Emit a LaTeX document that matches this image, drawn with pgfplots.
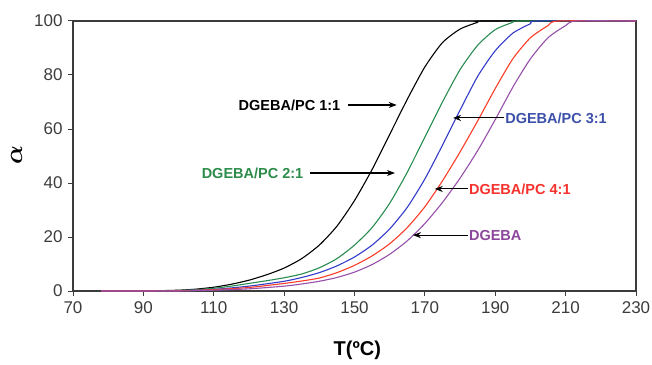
\documentclass[border=0pt]{standalone}
\usepackage{pgfplots}
\pgfplotsset{compat=1.18}
\usepackage{amsmath}
\usepackage{fontspec}
\setmainfont{Liberation Sans}
\usetikzlibrary{arrows.meta}
\definecolor{axgray}{RGB}{60,60,60}
\definecolor{cgreen}{RGB}{40,140,80}
\definecolor{tgreen}{RGB}{45,140,75}
\definecolor{cblue}{RGB}{50,60,200}
\definecolor{tblue}{RGB}{60,80,170}
\definecolor{cred}{RGB}{250,60,40}
\definecolor{tred}{RGB}{245,50,45}
\definecolor{cpurple}{RGB}{150,80,170}
\definecolor{tpurple}{RGB}{140,70,155}
\begin{document}
\begin{tikzpicture}
\begin{axis}[
  scale only axis, width=563pt, height=270pt,
  xmin=70, xmax=230, ymin=0, ymax=100,
  xtick={70,90,...,230}, ytick={0,20,...,100},
  tick align=outside, xtick pos=left, ytick pos=left,
  major tick length=5pt,
  axis line style={axgray, line width=1.1pt},
  every tick/.style={axgray, line width=1pt},
  /pgf/number format/assume math mode=true,
  ticklabel style={font=\fontsize{17}{17}\selectfont, text=axgray},
  xticklabel style={yshift=-2pt},
  yticklabel style={xshift=-2pt},
  xlabel={\textbf{T(ºC)}},
  xlabel style={font=\fontsize{20}{20}\selectfont, at={(axis description cs:0.505,-0.22)}, anchor=center},
  ylabel={$\boldsymbol{\alpha}$},
  ylabel style={font=\fontsize{26}{26}\selectfont, at={(axis description cs:-0.1,0.504)}, anchor=center},
  every axis plot/.append style={line width=1.1pt, smooth, tension=0.4},
]
% DGEBA/PC 1:1
\addplot[black] coordinates {
(78,0) (90,0) (100,0.3) (105,0.7) (110,1.4) (115,2.5) (120,4) (125,6) (130,8.5) (135,12) (140,17) (145,24) (150,33.5) (155,45) (160,58) (165,71) (170,83) (175,92) (180,97) (185,99.5) (187,100) (230,100)};
% DGEBA/PC 2:1
\addplot[cgreen] coordinates {
(78,0) (90,0) (100,0.2) (105,0.5) (110,1) (115,1.8) (120,2.8) (125,3.8) (130,4.9) (135,6.3) (140,8.6) (145,12) (150,17) (155,23.5) (160,32.5) (165,44) (170,57) (175,70) (180,82) (185,91) (190,96.8) (195,99.5) (197,100) (230,100)};
% DGEBA/PC 3:1
\addplot[cblue] coordinates {
(78,0) (90,0) (100,0.1) (110,0.6) (120,1.8) (130,3.6) (135,5) (140,6.8) (145,9.3) (150,12.6) (155,17) (160,23) (165,31) (170,41.5) (175,54) (180,67) (185,79.5) (190,89) (195,95.5) (200,99) (202,100) (230,100)};
% DGEBA/PC 4:1
\addplot[cred] coordinates {
(78,0) (90,0) (100,0.1) (110,0.5) (120,1.3) (130,2.8) (135,3.7) (140,4.8) (145,6.8) (150,9.5) (155,13) (160,17.5) (165,23.5) (170,31.2) (175,40.8) (180,51.5) (185,63) (190,75) (195,86) (200,93.8) (205,98.3) (208,100) (230,100)};
% DGEBA
\addplot[cpurple] coordinates {
(78,0) (90,0) (100,0) (110,0.3) (120,0.8) (130,1.8) (135,2.6) (140,3.6) (145,5) (150,7) (155,9.8) (160,13.6) (165,18.6) (170,25) (175,32.8) (180,41.8) (185,52) (190,63.5) (195,75.5) (200,86) (205,93.8) (210,98.3) (213,100) (230,100)};
% annotations
\tikzset{lab/.style={font=\fontsize{14.5}{14.5}\selectfont\bfseries, inner sep=0pt}, arr/.style={-{Stealth[length=8pt,width=6pt,inset=2.5pt]}, black, line width=1.1pt}}
\node[lab, anchor=east] at (axis cs:146,68.9) {DGEBA/PC 1:1};
\draw[arr] (axis cs:148.1,68.9) -- (axis cs:162,68.9);
\node[lab, anchor=east, text=tgreen] at (axis cs:135.5,43.7) {DGEBA/PC 2:1};
\draw[arr] (axis cs:137.3,43.7) -- (axis cs:161.5,43.7);
\node[lab, anchor=west, text=tblue] at (axis cs:192.8,64.1) {DGEBA/PC 3:1};
\draw[arr] (axis cs:192.5,64.1) -- (axis cs:178,64.1);
\node[lab, anchor=west, text=tred] at (axis cs:182.5,37.8) {DGEBA/PC 4:1};
\draw[arr] (axis cs:182.2,37.8) -- (axis cs:172.8,37.8);
\node[lab, anchor=west, text=tpurple] at (axis cs:182.5,20.7) {DGEBA};
\draw[arr] (axis cs:182.2,20.7) -- (axis cs:166.6,20.7);
\end{axis}
\pgfresetboundingbox
\path[use as bounding box] (-73pt,-73pt) rectangle (579pt,291pt);
\end{tikzpicture}
\end{document}
